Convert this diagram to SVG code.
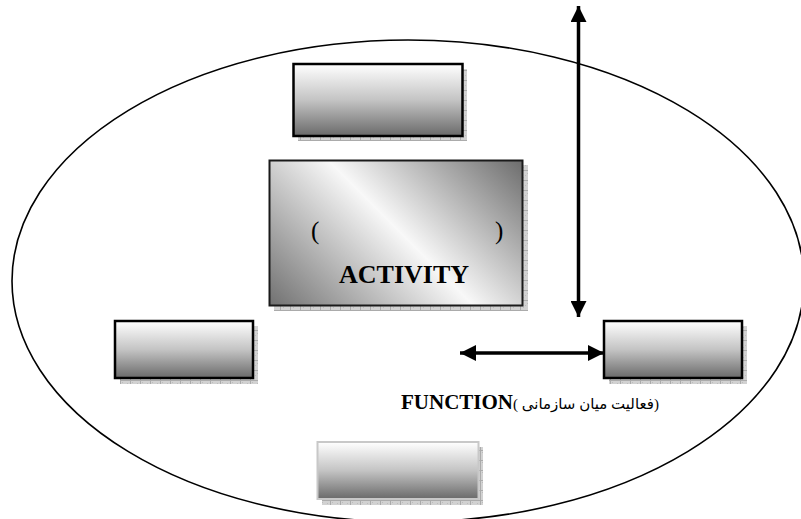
<svg xmlns="http://www.w3.org/2000/svg" width="801" height="519" viewBox="0 0 801 519">
<style>
.box{stroke:#000;stroke-width:2.5}
.shadow{fill:url(#chk)}
.lbl{font-family:"Liberation Serif","DejaVu Sans",serif;fill:#000}
.conn{stroke:#000;stroke-width:3.5;fill:none}
</style>
<defs>
<pattern id="chk" patternUnits="userSpaceOnUse" width="10" height="10">
<rect width="10" height="10" fill="#d2d2d2"/>
<path d="M0 0.5H10M0.5 0V10" stroke="#ababab" stroke-width="1"/>
<path d="M2 2h1v1h-1zM5 5h1v1h-1zM7 3h1v1h-1zM3 7h1v1h-1z" fill="#bcbcbc"/>
</pattern>
<linearGradient id="gv" x1="0" y1="0" x2="0" y2="1">
<stop offset="0" stop-color="#ffffff"/>
<stop offset="0.5" stop-color="#c4c4c4"/>
<stop offset="1" stop-color="#6a6a6a"/>
</linearGradient>
<linearGradient id="gact" gradientUnits="userSpaceOnUse" x1="250" y1="290" x2="450" y2="90">
<stop offset="0" stop-color="#6e6e6e"/>
<stop offset="0.52" stop-color="#f8f8f8"/>
<stop offset="1" stop-color="#6e6e6e"/>
</linearGradient>
<marker id="ah" viewBox="0 0 16 16" refX="16" refY="8" markerWidth="16" markerHeight="16" markerUnits="userSpaceOnUse" orient="auto-start-reverse">
<path d="M0 0L16 8L0 16z" fill="#000"/>
</marker>
</defs>
<rect width="801" height="519" fill="#fff"/>
<ellipse cx="408" cy="281" rx="396" ry="241" fill="none" stroke="#000" stroke-width="1.6"/>
<g id="top-box">
<rect class="shadow" x="298" y="69" width="169" height="72"/>
<rect class="box" x="293.5" y="64" width="169" height="72" fill="url(#gv)"/>
</g>
<g id="activity">
<rect class="shadow" x="274" y="165" width="254" height="146"/>
<rect x="269.5" y="160.5" width="253" height="145" fill="url(#gact)" stroke="#1a1a1a" stroke-width="2"/>
<text class="lbl" x="311" y="239" font-size="25">(</text>
<text class="lbl" x="495" y="239" font-size="25">)</text>
<text class="lbl" x="404" y="283" font-size="26" font-weight="bold" text-anchor="middle">ACTIVITY</text>
</g>
<g id="left-box">
<rect class="shadow" x="120" y="326" width="138" height="58"/>
<rect class="box" x="115" y="321" width="138" height="57" fill="url(#gv)"/>
</g>
<g id="right-box">
<rect class="shadow" x="609" y="326" width="138" height="58"/>
<rect class="box" x="604" y="321" width="138" height="57" fill="url(#gv)"/>
</g>
<g id="bottom-box">
<rect class="shadow" x="322" y="447" width="161" height="58"/>
<rect x="317.5" y="442" width="161" height="57" fill="url(#gv)" stroke="#c8c8c8" stroke-width="2"/>
</g>
<g id="connectors">
<line class="conn" x1="578.5" y1="6" x2="578.5" y2="317" marker-start="url(#ah)" marker-end="url(#ah)"/>
<line class="conn" x1="460" y1="353" x2="604" y2="353" marker-start="url(#ah)" marker-end="url(#ah)"/>
</g>
<g id="function-label">
<text class="lbl" x="401" y="409" font-size="15"><tspan font-size="21" font-weight="bold">FUNCTION</tspan>( فعالیت میان سازمانی)</text>
</g>
</svg>
